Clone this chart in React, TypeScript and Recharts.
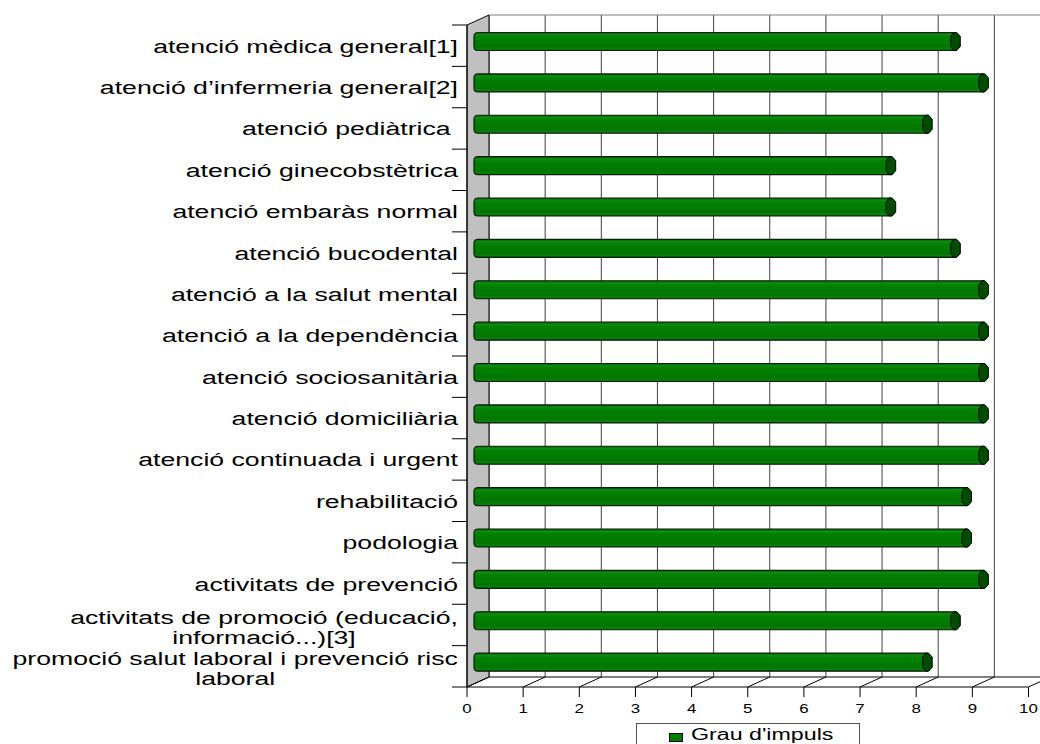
import { Bar, BarChart, CartesianGrid, Legend, XAxis, YAxis } from "recharts";

const CATEGORIES = [
  "atenció mèdica general[1]",
  "atenció d’infermeria general[2]",
  "atenció pediàtrica ",
  "atenció ginecobstètrica",
  "atenció embaràs normal",
  "atenció bucodental",
  "atenció a la salut mental",
  "atenció a la dependència",
  "atenció sociosanitària",
  "atenció domiciliària",
  "atenció continuada i urgent",
  "rehabilitació",
  "podologia",
  "activitats de prevenció",
  "activitats de promoció (educació,\ninformació...)[3]",
  "promoció salut laboral i prevenció risc\nlaboral",
];
const VALUES = [8.5, 9, 8, 7.35, 7.35, 8.5, 9, 9, 9, 9, 9, 8.7, 8.7, 9, 8.5, 8];
const X_TICKS = [0, 1, 2, 3, 4, 5, 6, 7, 8, 9, 10];

const WIDTH = 1040;
const HEIGHT = 744;
const LEFT = 467;
const TOP = 25;
const RIGHT = 1028.5;
const BOTTOM = 687;
const DEPTH_X = 22;
const DEPTH_Y = 10;
const BAND = (BOTTOM - TOP) / CATEGORIES.length;
const FONT = "'Liberation Sans', Arial, sans-serif";
const LABEL_RIGHT = 458;
const LABEL_SIZE = 18;
const LABEL_STRETCH = 1.48;

const data = CATEGORIES.map((name, i) => ({ name, value: VALUES[i] }));

function textWidth(text: string, size: number) {
  const ctx = document.createElement("canvas").getContext("2d");
  if (!ctx) return 0;
  ctx.font = `${size}px ${FONT}`;
  return ctx.measureText(text).width;
}

// left wall and floor edges of the fake 3D box
function Box() {
  return (
    <g>
      <polygon
        points={`${LEFT},${TOP} ${LEFT + DEPTH_X},${TOP - DEPTH_Y} ${LEFT + DEPTH_X},${BOTTOM - DEPTH_Y} ${LEFT},${BOTTOM}`}
        fill="#c0c0c0"
        stroke="#000"
      />
      <line x1={LEFT + DEPTH_X} y1={TOP - DEPTH_Y} x2={WIDTH} y2={TOP - DEPTH_Y} stroke="#808080" strokeWidth={1.2} />
      <line x1={LEFT + DEPTH_X} y1={BOTTOM - DEPTH_Y} x2={WIDTH} y2={BOTTOM - DEPTH_Y} stroke="#000" />
    </g>
  );
}

// grid lines sit on the back wall, so they are pushed back by the depth
function BackLine(props: any) {
  const { x1, y1, y2 } = props;
  return (
    <line
      x1={x1 + DEPTH_X}
      x2={x1 + DEPTH_X}
      y1={y1 - DEPTH_Y}
      y2={y2 - DEPTH_Y}
      stroke="#404040"
    />
  );
}

function ValueTick(props: any) {
  const { x, y, payload } = props;
  return (
    <g>
      <line x1={x} x2={x} y1={BOTTOM} y2={BOTTOM + 10} stroke="#000" />
      <line x1={x} x2={x + DEPTH_X} y1={BOTTOM} y2={BOTTOM - DEPTH_Y} stroke="#000" />
      <text
        transform={`translate(${x},${y + 17.5}) scale(1.3,1)`}
        textAnchor="middle"
        fontFamily={FONT}
        fontSize={13}
        fill="#000"
      >
        {payload.value}
      </text>
    </g>
  );
}

function CategoryTick(props: any) {
  const { y, payload, index } = props;
  const lines = String(payload.value).split("\n");
  const isWrapped = lines.length > 1;
  // wrapped labels are centred on each other, the widest line ends at the axis
  const center = LABEL_RIGHT - (textWidth(lines[0], LABEL_SIZE) * LABEL_STRETCH) / 2;
  return (
    <g>
      <line x1={LEFT - 15} x2={LEFT} y1={y - BAND / 2} y2={y - BAND / 2} stroke="#000" />
      {index === CATEGORIES.length - 1 && (
        <line x1={LEFT - 15} x2={LEFT} y1={y + BAND / 2} y2={y + BAND / 2} stroke="#000" />
      )}
      {lines.map((line, i) => (
        <text
          key={line}
          transform={`translate(${isWrapped ? center : LABEL_RIGHT},${y + (isWrapped ? (i === 0 ? -8 : 12) : 0) + 7}) scale(${LABEL_STRETCH},1)`}
          textAnchor={isWrapped ? "middle" : "end"}
          fontFamily={FONT}
          fontSize={LABEL_SIZE}
          fill="#000"
          style={{ whiteSpace: "pre" }}
        >
          {line}
        </text>
      ))}
    </g>
  );
}

function Tube(props: any) {
  const { x, y, width, height } = props;
  const left = x + DEPTH_X / 2;
  const top = y - DEPTH_Y / 2 + 0.5;
  const bottom = top + height;
  const end = left + width;
  const r = 4;
  return (
    <g>
      <path
        d={`M${left},${top} H${end} V${bottom} H${left} Q${left - r},${bottom} ${left - r},${bottom - r} V${top + r} Q${left - r},${top} ${left},${top} Z`}
        fill="url(#tube)"
        stroke="#0a1f0a"
        strokeWidth={1.2}
      />
      <path
        d={`M${end - 1.5},${top} H${end + 1.5} L${end + 5},${top + 4} V${bottom - 4} L${end + 1.5},${bottom} H${end - 1.5} L${end - 4.5},${bottom - 4} V${top + 4} Z`}
        fill="#004d00"
        stroke="#000"
      />
    </g>
  );
}

function LegendBox({ payload }: any) {
  const item = payload?.[0];
  return (
    <div
      style={{
        boxSizing: "border-box",
        width: 224,
        height: 21,
        border: "1px solid #555",
        borderBottom: "none",
        display: "flex",
        alignItems: "flex-start",
        fontFamily: FONT,
        fontSize: 16,
        color: "#000",
        paddingLeft: 32,
      }}
    >
      <span
        style={{
          display: "inline-block",
          width: 12,
          height: 7,
          marginTop: 9,
          marginRight: 8,
          background: "#008000",
          border: "1px solid #000",
        }}
      />
      <span
        style={{
          lineHeight: "21px",
          display: "inline-block",
          whiteSpace: "nowrap",
          transform: "scaleX(1.45)",
          transformOrigin: "left center",
        }}
      >
        {item?.value}
      </span>
    </div>
  );
}

export default function App() {
  return (
    <div style={{ position: "absolute", left: 0, top: 0, width: WIDTH, height: HEIGHT, overflow: "hidden", background: "#fff" }}>
      <BarChart
        width={WIDTH}
        height={HEIGHT}
        data={data}
        layout="vertical"
        margin={{ top: TOP, right: WIDTH - RIGHT, bottom: 0, left: 0 }}
        barSize={18}
      >
        <defs>
          <linearGradient id="tube" x1="0" y1="0" x2="0" y2="1">
            <stop offset="0" stopColor="#005f00" />
            <stop offset="0.12" stopColor="#118a11" />
            <stop offset="0.28" stopColor="#008000" />
            <stop offset="0.8" stopColor="#007600" />
            <stop offset="0.92" stopColor="#0c820c" />
            <stop offset="1" stopColor="#005500" />
          </linearGradient>
        </defs>
        <Box />
        <CartesianGrid horizontal={false} vertical={BackLine} />
        <XAxis
          type="number"
          domain={[0, 10]}
          ticks={X_TICKS}
          interval={0}
          height={HEIGHT - BOTTOM}
          tickLine={false}
          stroke="#000"
          tick={ValueTick}
        />
        <YAxis
          type="category"
          dataKey="name"
          width={LEFT}
          interval={0}
          tickLine={false}
          stroke="#000"
          tick={CategoryTick}
        />
        <Bar dataKey="value" name="Grau d'impuls" fill="#008000" shape={Tube} isAnimationActive={false} />
        <Legend
          layout="horizontal"
          verticalAlign="middle"
          align="center"
          content={LegendBox}
          wrapperStyle={{ position: "absolute", left: 636, top: 723, width: 224, height: 21 }}
        />
      </BarChart>
    </div>
  );
}
